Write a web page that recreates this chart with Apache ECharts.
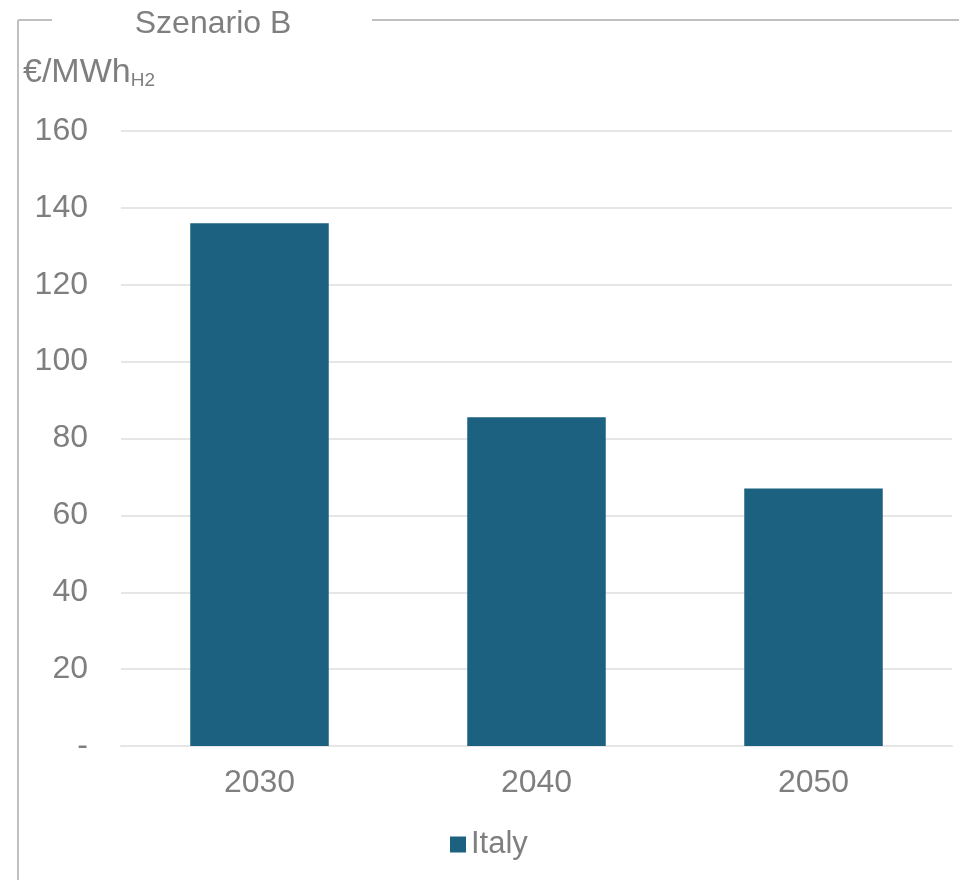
<!DOCTYPE html>
<html>
<head>
<meta charset="utf-8">
<script src="https://cdn.jsdelivr.net/npm/echarts@6/dist/echarts.min.js"></script>
<style>html,body{margin:0;padding:0;background:#fff}#c{width:959px;height:880px}</style>
</head>
<body>
<div id="c"></div>
<script>
const categories = ['2030', '2040', '2050'];
const seriesName = 'Italy';
const values = [136, 85.5, 67];
const yTicks = [0, 20, 40, 60, 80, 100, 120, 140, 160];

const chart = echarts.init(document.getElementById('c'));
const font = 'Liberation Sans, Arial, sans-serif';
const grey = '#7f7f7f';
chart.setOption({
  animation: false,
  backgroundColor: '#fff',
  graphic: [
    { type: 'line', shape: { x1: 18, y1: 20, x2: 18, y2: 880 }, style: { stroke: '#c0c0c0', lineWidth: 2 } },
    { type: 'line', shape: { x1: 18, y1: 20, x2: 52, y2: 20 }, style: { stroke: '#c0c0c0', lineWidth: 2 } },
    { type: 'line', shape: { x1: 372, y1: 20, x2: 959, y2: 20 }, style: { stroke: '#c0c0c0', lineWidth: 2 } },
    { type: 'text', left: 23, top: 56, style: {
        text: '{a|€/MWh}{b|H2}',
        rich: {
          a: { fontSize: 34, fontFamily: font, fill: grey, lineHeight: 42, verticalAlign: 'bottom' },
          b: { fontSize: 19, fontFamily: font, fill: grey, lineHeight: 42, padding: [14, 0, 0, 0], verticalAlign: 'bottom' }
        }
    } }
  ],
  title: {
    text: 'Szenario B', left: 208, top: 3, textAlign: 'center',
    textStyle: { fontSize: 32, fontWeight: 'normal', color: grey, fontFamily: font }
  },
  legend: {
    bottom: 15, left: 445, itemWidth: 16, itemHeight: 16, itemGap: 9,
    icon: 'rect',
    textStyle: { fontSize: 31, color: grey, fontFamily: font },
    data: [seriesName]
  },
  grid: { left: 121, right: 7, top: 131, bottom: 134, containLabel: false },
  xAxis: {
    type: 'category', data: categories,
    axisLine: { lineStyle: { color: '#e6e6e6', width: 2 } },
    axisTick: { show: false },
    axisLabel: { fontSize: 32, color: grey, fontFamily: font, margin: 21 }
  },
  yAxis: {
    type: 'value', min: yTicks[0], max: yTicks[yTicks.length - 1], interval: 20,
    axisLine: { show: false }, axisTick: { show: false },
    splitLine: { lineStyle: { color: '#e6e6e6', width: 2 } },
    axisLabel: { fontSize: 32, color: grey, fontFamily: font, margin: 33,
      formatter: v => v === 0 ? '-' : String(v) }
  },
  series: [{
    name: seriesName, type: 'bar', data: values, barWidth: '50%',
    itemStyle: { color: '#1c6180' }
  }]
});
</script>
</body>
</html>
